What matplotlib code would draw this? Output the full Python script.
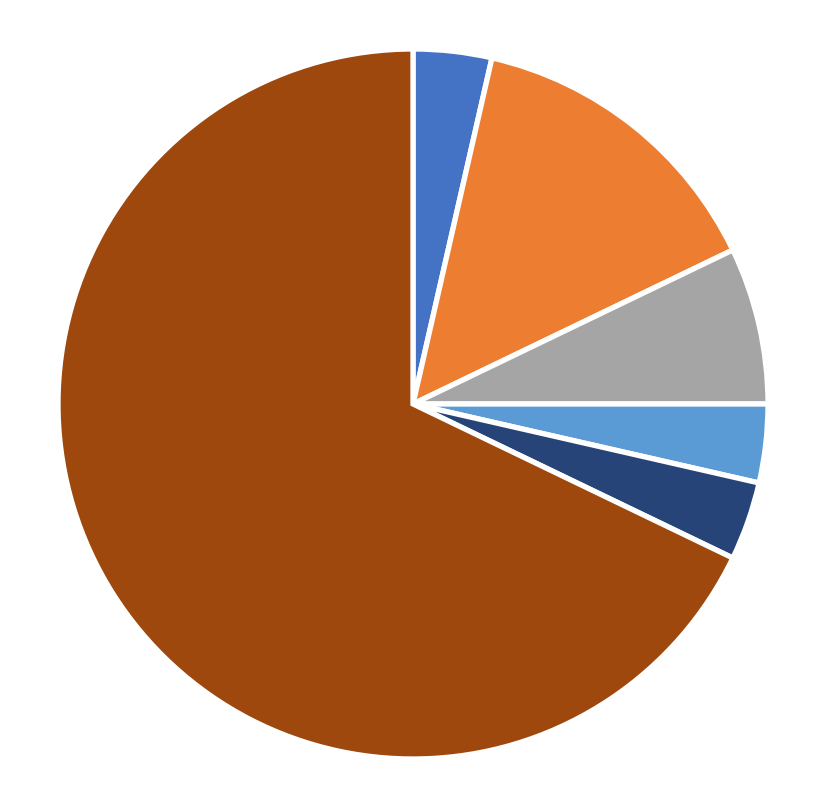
import matplotlib
matplotlib.use("Agg")
import matplotlib.pyplot as plt

labels = ["A", "B", "C", "D", "E", "F"]
values = [1, 4, 2, 1, 1, 19]
colors = ["#4472C4", "#ED7D31", "#A5A5A5", "#5B9BD5", "#264478", "#9E480E"]

fig = plt.figure(figsize=(8.25, 8.12), dpi=100)
W, H = 825, 812
cx, cy, r = 413, 405, 355
ax = fig.add_axes([(cx - r) / W, (H - cy - r) / H, 2 * r / W, 2 * r / H])
ax.pie(values, colors=colors, startangle=90, counterclock=False, radius=1,
       wedgeprops=dict(edgecolor="white", linewidth=3.8))
ax.set_xlim(-1, 1)
ax.set_ylim(-1, 1)
ax.axis("off")
fig.savefig("out.png", dpi=100, facecolor="white")
